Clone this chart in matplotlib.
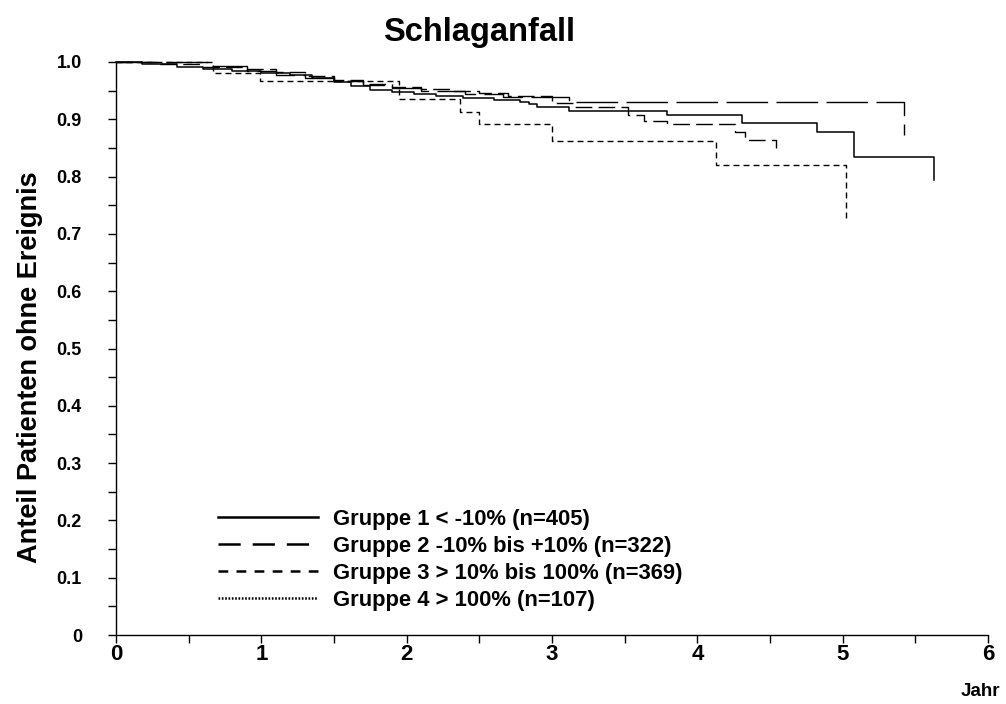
import matplotlib
matplotlib.use('Agg')
import matplotlib.pyplot as plt
from matplotlib.lines import Line2D

plt.rcParams['font.family'] = ['Liberation Sans', 'DejaVu Sans']
plt.rcParams['font.weight'] = 'bold'
plt.rcParams['lines.scale_dashes'] = False

# Kaplan-Meier steps (time in years, proportion event-free)
t_g1 = [0, 0.18, 0.42, 0.6, 0.8, 1.0, 1.2, 1.35, 1.5, 1.62, 1.75, 1.9, 2.05, 2.2,
        2.39, 2.6, 2.78, 2.84, 2.9, 3.12, 3.79, 4.31, 4.82, 5.08, 5.63]
s_g1 = [1.0, 0.996, 0.992, 0.988, 0.985, 0.981, 0.977, 0.972, 0.965, 0.958, 0.952,
        0.947, 0.944, 0.941, 0.937, 0.934, 0.930, 0.927, 0.921, 0.915, 0.907, 0.894,
        0.877, 0.835, 0.794]

t_g2 = [0, 0.63, 0.9, 1.1, 1.3, 1.5, 1.7, 1.9, 2.1, 2.4, 2.66, 3.12, 5.42]
s_g2 = [1.0, 0.993, 0.985, 0.978, 0.972, 0.966, 0.960, 0.955, 0.950, 0.945, 0.939,
        0.931, 0.873]

t_g3 = [0, 0.3, 0.6, 0.9, 1.1, 1.3, 1.5, 1.7, 1.9, 2.1, 2.3, 2.5, 2.7, 3.0, 3.16,
        3.52, 3.63, 3.79, 4.26, 4.33, 4.54]
s_g3 = [1.0, 0.997, 0.992, 0.987, 0.982, 0.976, 0.968, 0.962, 0.957, 0.953, 0.950,
        0.946, 0.940, 0.928, 0.922, 0.907, 0.897, 0.892, 0.878, 0.864, 0.850]

t_g4 = [0, 0.67, 0.99, 1.95, 2.37, 2.50, 3.0, 4.13, 5.02]
s_g4 = [1.0, 0.981, 0.967, 0.935, 0.913, 0.892, 0.862, 0.820, 0.728]

labels = ['Gruppe 1 < -10% (n=405)',
          'Gruppe 2 -10% bis +10% (n=322)',
          'Gruppe 3 > 10% bis 100% (n=369)',
          'Gruppe 4 > 100% (n=107)']

x_ticks = [0, 1, 2, 3, 4, 5, 6]
y_ticks = [0, 0.1, 0.2, 0.3, 0.4, 0.5, 0.6, 0.7, 0.8, 0.9, 1.0]
y_ticklabels = ['0', '0.1', '0.2', '0.3', '0.4', '0.5', '0.6', '0.7', '0.8', '0.9', '1.0']

fig = plt.figure(figsize=(10.06, 7.04), dpi=100)
ax = fig.add_axes([116 / 1006, 1 - 635 / 704, 872 / 1006, 573 / 704])

ax.step(t_g1, s_g1, where='post', color='black', lw=1.1, clip_on=False)
ax.step(t_g2, s_g2, where='post', color='black', lw=1.0, dashes=(30, 6), clip_on=False)
ax.step(t_g3, s_g3, where='post', color='black', lw=1.0, dashes=(12, 4.5), clip_on=False)
ax.step(t_g4, s_g4, where='post', color='black', lw=1.0, dashes=(4.3, 2.9), clip_on=False)

ax.set_xlim(0, 6)
ax.set_ylim(0, 1.0)
ax.set_xticks(x_ticks)
ax.set_xticks([0.5 + i for i in range(6)], minor=True)
ax.set_yticks(y_ticks)
ax.set_yticklabels(y_ticklabels)
ax.set_yticks([0.05 + 0.1 * i for i in range(10)], minor=True)
for s in ['top', 'right']:
    ax.spines[s].set_visible(False)
for s in ['left', 'bottom']:
    ax.spines[s].set_linewidth(1.0)
ax.tick_params(which='both', direction='out', length=5.5, width=1.0)
ax.tick_params(axis='y', which='major', labelsize=13, pad=19)
ax.tick_params(axis='x', which='major', labelsize=16, pad=1)
for lab in ax.get_xticklabels() + ax.get_yticklabels():
    lab.set_fontweight('bold')

fig.text(479 / 1006, 1 - 32 / 704, 'Schlaganfall', ha='center', va='center',
         fontsize=23.5, fontweight='bold')
fig.text(30 / 1006, 1 - 367 / 704, 'Anteil Patienten ohne Ereignis', rotation=90,
         ha='center', va='center', fontsize=19.5, fontweight='bold')
fig.text(1000 / 1006, 1 - 692 / 704, 'Jahr', ha='right', va='center',
         fontsize=13.5, fontweight='bold')

handles = [Line2D([], [], color='black', lw=1.8),
           Line2D([], [], color='black', lw=1.8, dashes=(16, 8.6)),
           Line2D([], [], color='black', lw=1.8, dashes=(7, 6)),
           Line2D([], [], color='black', lw=1.8, dashes=(1.2, 1.2))]
ax.legend(handles, labels, loc='upper left', bbox_to_anchor=(198 / 1006, 1 - 489 / 704),
          bbox_transform=fig.transFigure, frameon=False,
          handlelength=4.56, handletextpad=0.68, labelspacing=0.27,
          prop={'weight': 'bold', 'size': 15.8})

fig.savefig('out.png', dpi=100)
